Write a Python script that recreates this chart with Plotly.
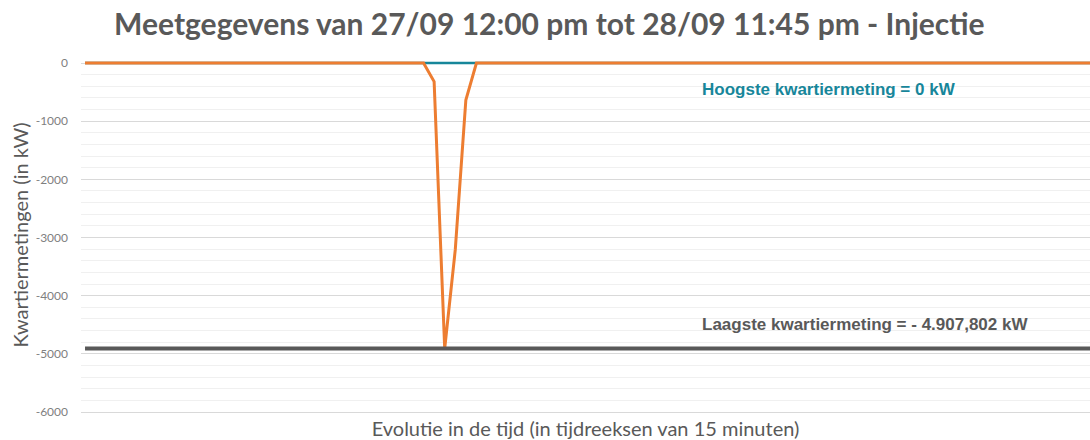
import plotly.graph_objects as go

# ---- data ----
quarter_index = list(range(96))  # 27/09 12:00 pm -> 28/09 11:45 pm, 15-min steps
injectie = [0.0] * 96
injectie[33] = -320.0
injectie[34] = -4907.802
injectie[35] = -3210.0
injectie[36] = -636.0
hoogste_waarde = 0.0
laagste_waarde = -4907.802

y_tick_values = [0, -1000, -2000, -3000, -4000, -5000, -6000]
y_tick_labels = ["0", "-1000", "-2000", "-3000", "-4000", "-5000", "-6000"]

title_text = "Meetgegevens van 27/09 12:00 pm tot 28/09 11:45 pm - Injectie"
y_title = "Kwartiermetingen (in kW)"
x_title = "Evolutie in de tijd (in tijdreeksen van 15 minuten)"
label_hoog = "Hoogste kwartiermeting = 0 kW"
label_laag = "Laagste kwartiermeting = - 4.907,802 kW"

TEAL = "#17869A"
ORANGE = "#ED7D31"
GREY = "#595959"

fig = go.Figure()
fig.add_trace(go.Scatter(x=quarter_index, y=[hoogste_waarde] * len(quarter_index),
                         mode="lines", line=dict(color=TEAL, width=2.5), hoverinfo="skip"))
fig.add_trace(go.Scatter(x=quarter_index, y=injectie, mode="lines",
                         line=dict(color=ORANGE, width=3)))
fig.add_trace(go.Scatter(x=quarter_index, y=[laagste_waarde] * len(quarter_index),
                         mode="lines", line=dict(color=GREY, width=4), hoverinfo="skip"))

fig.add_annotation(x=58.1, y=-447, xref="x", yref="y", text="<b>" + label_hoog + "</b>",
                   showarrow=False, xanchor="left", yanchor="middle",
                   font=dict(family="Liberation Sans, Arial", size=17, color=TEAL))
fig.add_annotation(x=58.1, y=-4504, xref="x", yref="y", text="<b>" + label_laag + "</b>",
                   showarrow=False, xanchor="left", yanchor="middle",
                   font=dict(family="Liberation Sans, Arial", size=17, color=GREY))

fig.update_layout(
    width=1090, height=440,
    margin=dict(l=81, r=0, t=55, b=25),
    paper_bgcolor="white", plot_bgcolor="white",
    showlegend=False,
    title=dict(text=title_text, x=0.504, xanchor="center", y=0.945, yanchor="middle",
               font=dict(family="Lato", size=30, color=GREY, weight="bold")),
    xaxis=dict(range=[-0.38, 95], showgrid=False, showticklabels=False, zeroline=False,
               showline=False, ticks="", automargin=False,
               title=dict(text=x_title, standoff=7,
                          font=dict(family="Lato", size=20, color=GREY))),
    yaxis=dict(range=[-6051.6, 137.5], tickmode="array", tickvals=y_tick_values,
               ticktext=y_tick_labels, zeroline=False, automargin=False,
               showline=False, gridcolor="#D9D9D9", gridwidth=1,
               tickfont=dict(family="Lato", size=12, color="#7F7F7F"),
               ticklabelstandoff=12,
               minor=dict(dtick=200, tick0=0, showgrid=True, gridcolor="#F0F0F0", gridwidth=1),
               title=dict(text=y_title, standoff=1,
                          font=dict(family="Lato", size=20, color=GREY))),
)

fig.write_html("out.html", config={"displayModeBar": False},
               post_script="document.body.style.margin='0';")
